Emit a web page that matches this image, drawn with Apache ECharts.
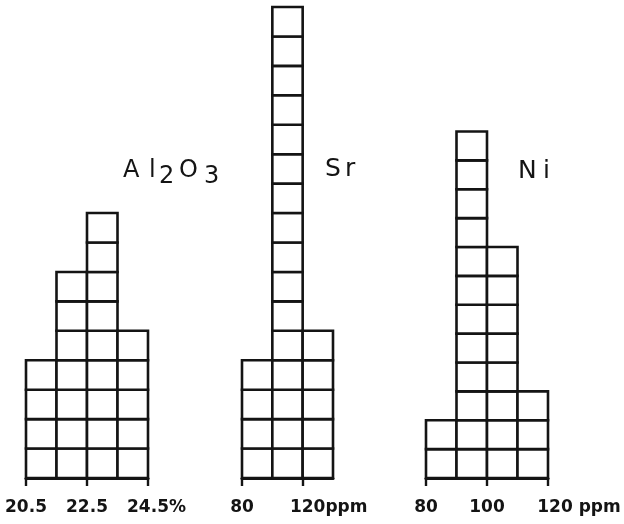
<!DOCTYPE html>
<html>
<head>
<meta charset="utf-8">
<script src="https://cdn.jsdelivr.net/npm/echarts@6/dist/echarts.min.js"></script>
<style>
html,body{margin:0;padding:0;background:#fff;}
#chart{width:624px;height:524px;}
</style>
</head>
<body>
<div id="chart"></div>
<script>
// Histogram bin edges and counts (number of stacked boxes per bin)
var al2o3Edges = [20.5, 21.5, 22.5, 23.5, 24.5];
var al2o3Counts = [4, 7, 9, 5];
var srEdges = [80, 100, 120, 140];
var srCounts = [4, 16, 5];
var niEdges = [80, 90, 100, 110, 120];
var niCounts = [2, 12, 8, 3];

// Tick labels
var al2o3Ticks = [20.5, 22.5, 24.5];
var srTicks = [80, 120];
var niTicks = [80, 100, 120];
var units = ['%', 'ppm', ' ppm'];

var FONT = 'DejaVu Sans';
var INK = '#141414';

function binData(edges, counts) {
  var out = [];
  for (var i = 0; i < counts.length; i++) out.push([edges[i], edges[i + 1], counts[i]]);
  return out;
}

function renderBoxes(params, api) {
  var x0 = api.value(0), x1 = api.value(1), n = api.value(2);
  var children = [];
  for (var k = 0; k < n; k++) {
    var p0 = api.coord([x0, k]);
    var p1 = api.coord([x1, k + 1]);
    children.push({
      type: 'rect',
      shape: { x: p0[0], y: p1[1], width: p1[0] - p0[0], height: p0[1] - p1[1] },
      style: { fill: '#fff', stroke: INK, lineWidth: 2.6 }
    });
  }
  return { type: 'group', children: children };
}

var panels = [
  { edges: al2o3Edges, counts: al2o3Counts, ticks: al2o3Ticks, unit: units[0], pad: 17, grid: { left: 26, width: 122, top: 7 } },
  { edges: srEdges, counts: srCounts, ticks: srTicks, unit: units[1], pad: 52, grid: { left: 242, width: 91, top: 7 } },
  { edges: niEdges, counts: niCounts, ticks: niTicks, unit: units[2], pad: 62, grid: { left: 426, width: 122, top: 16 } }
];

var grids = [], xAxes = [], yAxes = [], series = [];
panels.forEach(function (p, i) {
  grids.push({ left: p.grid.left, width: p.grid.width, top: p.grid.top, bottom: 46, containLabel: false });
  var last = p.ticks[p.ticks.length - 1];
  var unit = p.unit;
  xAxes.push({
    type: 'value', gridIndex: i,
    min: p.edges[0], max: p.edges[p.edges.length - 1],
    splitLine: { show: false },
    axisLine: { show: true, onZero: false, lineStyle: { color: INK, width: 3 } },
    axisTick: { show: true, customValues: p.ticks, length: 8, lineStyle: { color: INK, width: 2.4 } },
    axisLabel: {
      show: true, customValues: p.ticks, margin: 21,
      color: INK, fontFamily: FONT, fontSize: 17, fontWeight: 'bold',
      formatter: function (v) {
        if (v === last) return '{p|}' + v + '{u|' + unit + '}';
        return String(v);
      },
      rich: {
        p: { width: p.pad },
        u: { fontFamily: FONT, fontSize: 17, fontWeight: 'bold', color: INK }
      }
    }
  });
  yAxes.push({ type: 'value', gridIndex: i, min: 0, max: 16, show: false });
  series.push({
    type: 'custom', xAxisIndex: i, yAxisIndex: i,
    data: binData(p.edges, p.counts),
    encode: { x: [0, 1], y: 2 },
    renderItem: renderBoxes,
    silent: true
  });
});

function letter(size, width, down) {
  return { fontFamily: FONT, fontSize: size, fontWeight: 'normal', color: INK, width: width,
    padding: down ? [down, 0, 0, 0] : [0, 0, 6, 0] };
}

var chart = echarts.init(document.getElementById('chart'), null, { renderer: 'canvas' });
chart.setOption({
  backgroundColor: '#fff',
  animation: false,
  title: [
    {
      text: '{A|A}{l|l}{s2|2}{O|O}{s3|3}',
      left: 123, top: 159, padding: 0,
      textStyle: {
        rich: {
          A: letter(24, 26), l: letter(24, 10), s2: letter(24, 20, 6), O: letter(24, 25), s3: letter(24, 16, 6)
        }
      }
    },
    {
      text: '{S|S}{r|r}', left: 325, top: 157, padding: 0,
      textStyle: { rich: { S: letter(25, 20), r: letter(25, 12) } }
    },
    {
      text: '{N|N}{i|i}', left: 518, top: 159, padding: 0,
      textStyle: { rich: { N: letter(25, 25), i: letter(25, 8) } }
    }
  ],
  grid: grids,
  xAxis: xAxes,
  yAxis: yAxes,
  series: series
});
</script>
</body>
</html>
